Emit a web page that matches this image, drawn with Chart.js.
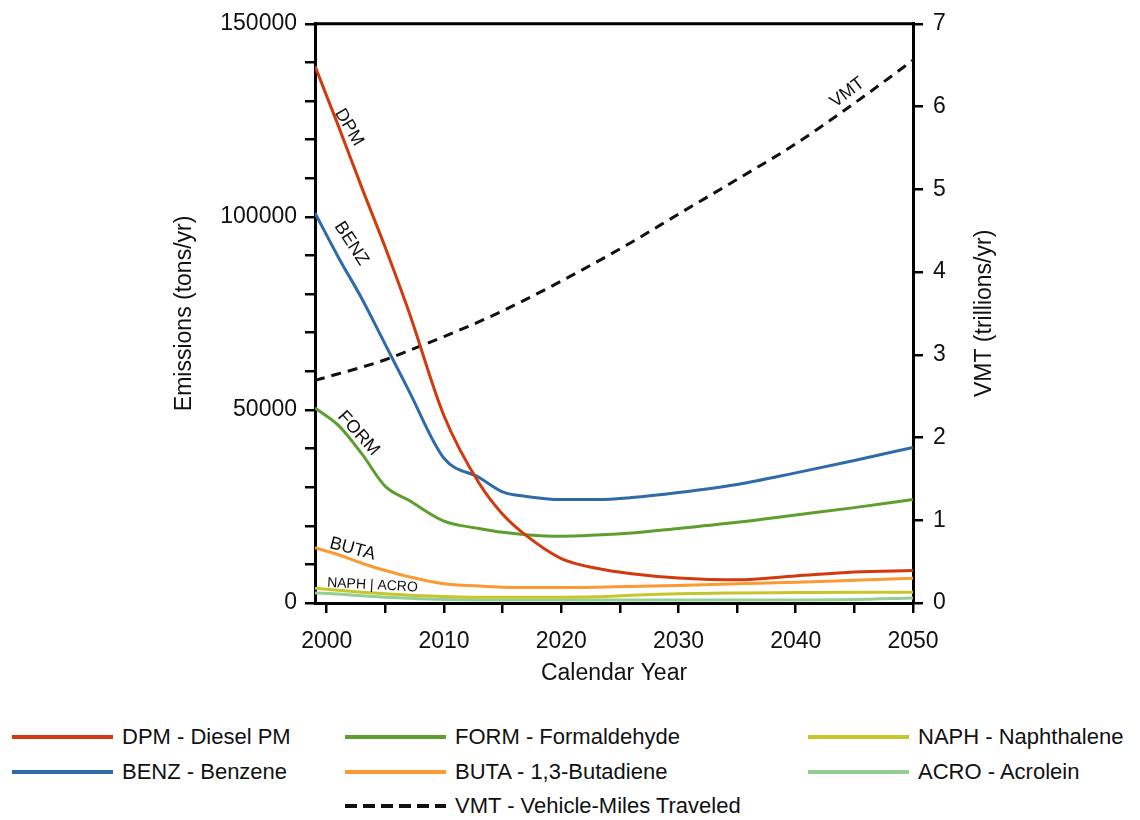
<!DOCTYPE html>
<html>
<head>
<meta charset="utf-8">
<title>Emissions and VMT</title>
<script src="https://cdn.jsdelivr.net/npm/chart.js@4.4.0/dist/chart.umd.min.js"></script>
<style>
  body { margin: 0; background: #fff; font-family: "Liberation Sans", Arial, sans-serif; }
  #wrap { position: relative; width: 1140px; height: 820px; }
  #chartBox { position: absolute; left: 0; top: 0; width: 1140px; height: 700px; }
  .legend-item { position: absolute; display: flex; align-items: center; height: 30px; font-size: 22px; color: #111; white-space: nowrap; }
  .legend-item svg { margin-right: 9px; }
</style>
</head>
<body>
<div id="wrap">
  <div id="chartBox"><canvas id="emissionsChart"></canvas></div>
  <div id="legend"></div>
</div>
<script>
// Calendar years
const years = [1999, 2001, 2003, 2005, 2007, 2010, 2013, 2015, 2017, 2020, 2023, 2026, 2030, 2035, 2040, 2045, 2050];

// Emissions (tons/yr)
const dpm  = [139000, 123500, 107500, 92000, 75500, 48500, 31000, 23000, 17500, 11500, 9000, 7600, 6500, 6000, 7000, 8000, 8400];
const benz = [101000, 89500, 78800, 66900, 55000, 37500, 32500, 28800, 27600, 26800, 26800, 27300, 28600, 30700, 33700, 36900, 40300];
const form = [50500, 46000, 38600, 30200, 26600, 21200, 19300, 18300, 17700, 17300, 17600, 18100, 19300, 20900, 22800, 24700, 26800];
const buta = [14300, 12500, 10300, 8400, 6800, 5000, 4400, 4100, 4000, 4000, 4100, 4300, 4500, 5000, 5400, 5900, 6400];
const naph = [3800, 3300, 2800, 2400, 2000, 1700, 1500, 1500, 1500, 1500, 1600, 2000, 2400, 2600, 2700, 2800, 2800];
const acro = [2600, 2300, 1900, 1500, 1200, 900, 800, 800, 800, 800, 800, 800, 800, 800, 800, 900, 1300];

// Vehicle-miles traveled (trillions/yr)
const vmt = [2.69, 2.77, 2.85, 2.94, 3.05, 3.22, 3.40, 3.53, 3.67, 3.89, 4.12, 4.36, 4.70, 5.12, 5.55, 6.04, 6.56];

// Tick values and which of them carry a label
const xTickValues = [2000, 2005, 2010, 2015, 2020, 2025, 2030, 2035, 2040, 2045, 2050];
const xTickLabels = [2000, 2010, 2020, 2030, 2040, 2050];
const yTickValues = [0, 10000, 20000, 30000, 40000, 50000, 60000, 70000, 80000, 90000, 100000, 110000, 120000, 130000, 140000, 150000];
const yTickLabels = [0, 50000, 100000, 150000];
const y2TickValues = [0, 1, 2, 3, 4, 5, 6, 7];
const y2Title = 'VMT (trillions/yr)';

// Names written along the lines (placed in data units)
const lineLabels = [
    { text: 'DPM', year: 2001.9, value: 123200, axis: 'y', angle: 59, size: 18 },
    { text: 'BENZ', year: 2002.1, value: 93100, axis: 'y', angle: 57, size: 18 },
    { text: 'FORM', year: 2002.7, value: 43900, axis: 'y', angle: 48, size: 18 },
    { text: 'BUTA', year: 2002.2, value: 14000, axis: 'y', angle: 15, size: 18 },
    { text: 'NAPH | ACRO', year: 2003.9, value: 4600, axis: 'y', angle: 3, size: 14 },
    { text: 'VMT', year: 2044.4, value: 6.17, axis: 'y2', angle: -37, size: 18 }
];

function toPoints(values) {
    return values.map((v, i) => ({ x: years[i], y: v }));
}

const FONT = 'Liberation Sans';

// Top frame line, right axis title and the line names
const frameAndLabels = {
    id: 'frameAndLabels',
    afterDatasetsDraw(chart) {
        const { ctx, chartArea, scales } = chart;
        ctx.save();
        ctx.strokeStyle = '#000';
        ctx.lineWidth = 3;
        ctx.beginPath();
        ctx.moveTo(chartArea.left, chartArea.top);
        ctx.lineTo(chartArea.right, chartArea.top);
        ctx.stroke();

        // right title reads bottom-to-top like the left one
        ctx.save();
        ctx.translate(scales.y2.right - 14, (chartArea.top + chartArea.bottom) / 2);
        ctx.rotate(-Math.PI / 2);
        ctx.font = '23px "' + FONT + '"';
        ctx.fillStyle = '#111';
        ctx.textAlign = 'center';
        ctx.textBaseline = 'middle';
        ctx.fillText(y2Title, 0, 0);
        ctx.restore();

        lineLabels.forEach(l => {
            const px = scales.x.getPixelForValue(l.year);
            const py = scales[l.axis].getPixelForValue(l.value);
            ctx.save();
            ctx.translate(px, py);
            ctx.rotate(l.angle * Math.PI / 180);
            ctx.font = l.size + 'px "' + FONT + '"';
            ctx.fillStyle = '#111';
            ctx.textAlign = 'center';
            ctx.textBaseline = 'middle';
            ctx.fillText(l.text, 0, 0);
            ctx.restore();
        });
        ctx.restore();
    }
};

function tickStyle() {
    return { display: true, drawOnChartArea: false, drawTicks: true, tickLength: 10, color: '#000', lineWidth: 2.5 };
}

// Initialize chart
const ctx = document.getElementById('emissionsChart').getContext('2d');
const chart = new Chart(ctx, {
    type: 'line',
    data: {
        datasets: [
            { label: 'DPM - Diesel PM', data: toPoints(dpm), borderColor: '#d2390d', yAxisID: 'y' },
            { label: 'BENZ - Benzene', data: toPoints(benz), borderColor: '#2f6aa9', yAxisID: 'y' },
            { label: 'FORM - Formaldehyde', data: toPoints(form), borderColor: '#5e9e2f', yAxisID: 'y' },
            { label: 'BUTA - 1,3-Butadiene', data: toPoints(buta), borderColor: '#fb9a32', yAxisID: 'y' },
            { label: 'NAPH - Naphthalene', data: toPoints(naph), borderColor: '#c6c62c', yAxisID: 'y' },
            { label: 'ACRO - Acrolein', data: toPoints(acro), borderColor: '#93cf95', yAxisID: 'y' },
            { label: 'VMT - Vehicle-Miles Traveled', data: toPoints(vmt), borderColor: '#111', borderDash: [10, 7], yAxisID: 'y2' }
        ]
    },
    options: {
        responsive: true,
        maintainAspectRatio: false,
        animation: false,
        layout: { padding: { left: 171, right: 141, top: 15, bottom: 13 } },
        elements: {
            line: { borderWidth: 3, cubicInterpolationMode: 'monotone' },
            point: { radius: 0 }
        },
        scales: {
            x: {
                type: 'linear',
                min: 1999,
                max: 2050,
                afterBuildTicks: s => { s.ticks = xTickValues.map(v => ({ value: v })); },
                afterFit: s => { s.height = 84; },
                grid: tickStyle(),
                border: { display: true, color: '#000', width: 3 },
                ticks: {
                    color: '#111',
                    padding: 15,
                    maxRotation: 0,
                    autoSkip: false,
                    font: { family: FONT, size: 23 },
                    callback: v => xTickLabels.includes(v) ? String(v) : ''
                },
                title: { display: true, text: 'Calendar Year', color: '#111', padding: 0, font: { family: FONT, size: 23 } }
            },
            y: {
                position: 'left',
                min: 0,
                max: 150000,
                afterBuildTicks: s => { s.ticks = yTickValues.map(v => ({ value: v })); },
                afterFit: s => { s.width = 144; },
                grid: tickStyle(),
                border: { display: true, color: '#000', width: 3 },
                ticks: {
                    color: '#111',
                    padding: 8,
                    autoSkip: false,
                    font: { family: FONT, size: 23 },
                    callback: v => yTickLabels.includes(v) ? String(v) : ''
                },
                title: { display: true, text: 'Emissions (tons/yr)', color: '#111', padding: 0, font: { family: FONT, size: 23 } }
            },
            y2: {
                position: 'right',
                min: 0,
                max: 7,
                afterBuildTicks: s => { s.ticks = y2TickValues.map(v => ({ value: v })); },
                afterFit: s => { s.width = 86; },
                grid: tickStyle(),
                border: { display: true, color: '#000', width: 3 },
                ticks: {
                    color: '#111',
                    padding: 10,
                    autoSkip: false,
                    font: { family: FONT, size: 23 },
                    callback: v => String(v)
                },
                title: { display: false }
            }
        },
        plugins: {
            legend: { display: false },
            tooltip: { enabled: false }
        }
    },
    plugins: [frameAndLabels]
});

// Build the legend below the chart (slot positions per dataset, in order)
const legendSlots = [
    [12, 737], [12, 772],
    [345, 737], [345, 772],
    [808, 737], [808, 772],
    [345, 806]
];
const legendEl = document.getElementById('legend');
chart.data.datasets.forEach((ds, i) => {
    const [left, cy] = legendSlots[i];
    const item = document.createElement('div');
    item.className = 'legend-item';
    item.style.left = left + 'px';
    item.style.top = (cy - 15) + 'px';
    const dash = ds.borderDash ? ' stroke-dasharray="12 6"' : '';
    item.innerHTML =
        '<svg width="101" height="6"><line x1="0" y1="3" x2="101" y2="3" stroke="' + ds.borderColor +
        '" stroke-width="4"' + dash + '/></svg><span>' + ds.label + '</span>';
    legendEl.appendChild(item);
});
</script>
</body>
</html>
